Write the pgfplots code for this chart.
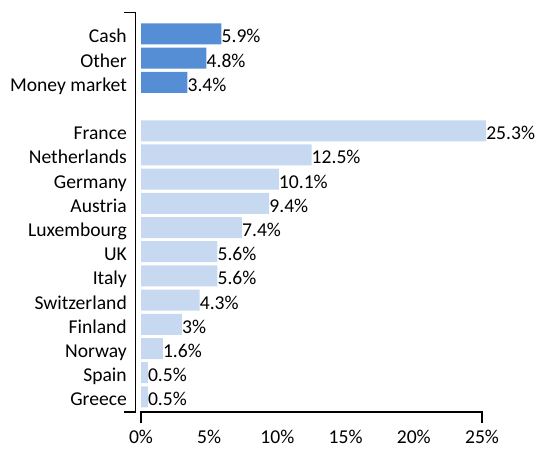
\documentclass[border=0pt]{standalone}
\usepackage{pgfplots}
\pgfplotsset{compat=1.18}
\usepackage{fontspec}
\setmainfont{Carlito}
\definecolor{darkbar}{RGB}{85,142,213}
\definecolor{lightbar}{RGB}{198,217,241}
\begin{document}
\begin{tikzpicture}[x=1pt,y=1pt]
\useasboundingbox (0,0) rectangle (540,448);
\begin{axis}[
  at={(141pt,39pt)}, anchor=south west,
  scale only axis, width=341pt, height=396.8pt,
  xmin=0, xmax=25, ymin=-0.5, ymax=15.9,
  clip=false,
  axis line style={draw=none},
  major tick length=0pt,
  /pgf/number format/assume math mode=true,
  xtick={0,5,10,15,20,25},
  xticklabels={0\%,5\%,10\%,15\%,20\%,25\%},
  ytick={0,1,2,3,4,5,6,7,8,9,10,11,13,14,15},
  yticklabels={Greece,Spain,Norway,Finland,Switzerland,Italy,UK,Luxembourg,Austria,Germany,Netherlands,France,Money market,Other,Cash},
  tick label style={font=\fontsize{19.6}{22}\selectfont, inner sep=0pt},
  xticklabel style={anchor=base, yshift=-34.5pt},
  yticklabel style={anchor=base east, xshift=-14pt, yshift=-9pt},
  nodes near coords={\pgfmathprintnumber[fixed,precision=1,assume math mode=true]{\pgfplotspointmeta}\%},
  point meta=x,
  every node near coord/.append style={font=\fontsize{19.6}{22}\selectfont, anchor=base west, inner sep=0pt, yshift=-9pt, text=black},
]
\addplot[xbar, bar width=21pt, bar shift=0pt, fill=lightbar, draw=none] coordinates {
(0.5,0) (0.5,1) (1.6,2) (3,3) (4.3,4) (5.6,5) (5.6,6) (7.4,7) (9.4,8) (10.1,9) (12.5,10) (25.3,11)};
\addplot[xbar, bar width=21pt, bar shift=0pt, fill=darkbar, draw=none] coordinates {
(3.4,13) (4.8,14) (5.9,15)};
\end{axis}
\draw[line width=1.5pt] (123.5,435.3) -- (135.5,435.3) -- (135.5,36) -- (123.5,36);
\draw[line width=1.5pt] (141,25) -- (141,36) -- (482,36) -- (482,25);
\end{tikzpicture}
\end{document}
